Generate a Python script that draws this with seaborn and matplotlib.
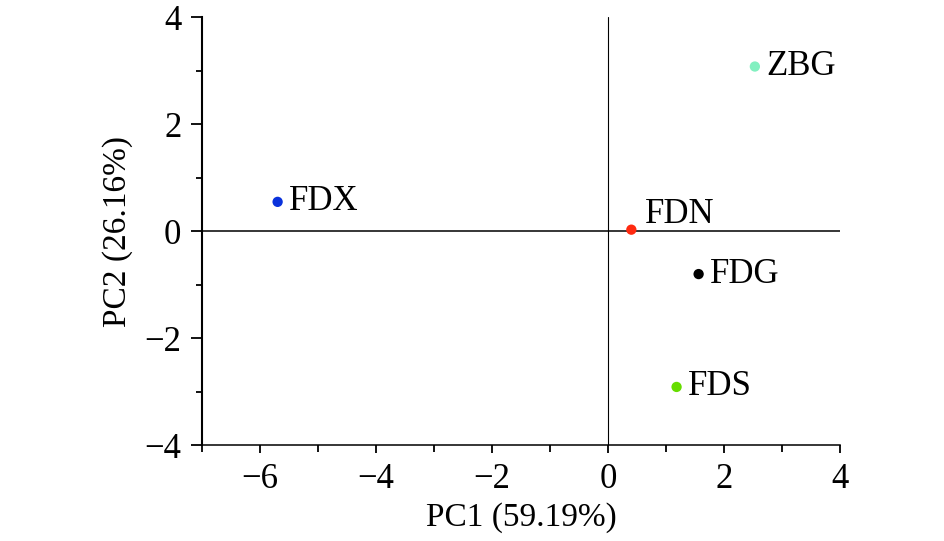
"""PCA score plot of five samples."""

import matplotlib.pyplot as plt
import pandas as pd
import seaborn as sns
from matplotlib.ticker import MultipleLocator

# Sample scores on the first two principal components
samples = ["FDX", "FDN", "ZBG", "FDG", "FDS"]
pc1 = [-5.70, 0.40, 2.53, 1.56, 1.18]
pc2 = [0.55, 0.03, 3.08, -0.80, -2.91]
colors = ["#0a32dc", "#ff2a10", "#82f0c0", "#000000", "#66dd00"]

x_label = "PC1 (59.19%)"
y_label = "PC2 (26.16%)"

df = pd.DataFrame({"sample": samples, "pc1": pc1, "pc2": pc2})

sns.set_style("ticks")
plt.rcParams["font.family"] = ["Liberation Serif", "DejaVu Serif"]
plt.rcParams["axes.unicode_minus"] = True
for key in ["text.color", "axes.labelcolor", "xtick.color", "ytick.color",
            "axes.edgecolor"]:
    plt.rcParams[key] = "black"

fig, ax = plt.subplots(figsize=(9.45, 5.41), dpi=100)
fig.subplots_adjust(left=0.214, right=0.889, top=0.968, bottom=0.177)

# Zero reference lines
ax.axhline(0, color="black", lw=1.1, zorder=1)
ax.axvline(0, color="black", lw=0.8, zorder=1)

sns.scatterplot(
    data=df,
    x="pc1",
    y="pc2",
    hue="sample",
    palette=dict(zip(samples, colors)),
    s=55,
    edgecolor="none",
    legend=False,
    ax=ax,
    zorder=3,
)

# Point labels, FDN sits above its point
for name, x, y in zip(samples, pc1, pc2):
    if name == "FDN":
        ax.annotate(name, (x, y), xytext=(10, -1), textcoords="offset points",
                    va="bottom", ha="left", fontsize=25)
    else:
        ax.annotate(name, (x, y), xytext=(8, 0), textcoords="offset points",
                    va="center", ha="left", fontsize=25)

ax.set_xlim(-7, 4)
ax.set_ylim(-4, 4)
ax.xaxis.set_major_locator(MultipleLocator(2))
ax.xaxis.set_minor_locator(MultipleLocator(1))
ax.yaxis.set_major_locator(MultipleLocator(2))
ax.yaxis.set_minor_locator(MultipleLocator(1))

sns.despine(ax=ax)
ax.spines["left"].set_linewidth(1.5)
ax.spines["bottom"].set_linewidth(1.1)

ax.tick_params(axis="x", which="major", direction="out", length=6, width=1.3,
               labelsize=25, pad=7)
ax.tick_params(axis="x", which="minor", direction="out", length=5, width=1.3)
ax.tick_params(axis="y", which="major", direction="out", length=8, width=1.3,
               labelsize=25, pad=7)
ax.tick_params(axis="y", which="minor", direction="out", length=4.5, width=1.3)

ax.set_xlabel(x_label, fontsize=24, labelpad=4)
ax.set_ylabel(y_label, fontsize=24, labelpad=8)

fig.savefig("out.png", dpi=100)
